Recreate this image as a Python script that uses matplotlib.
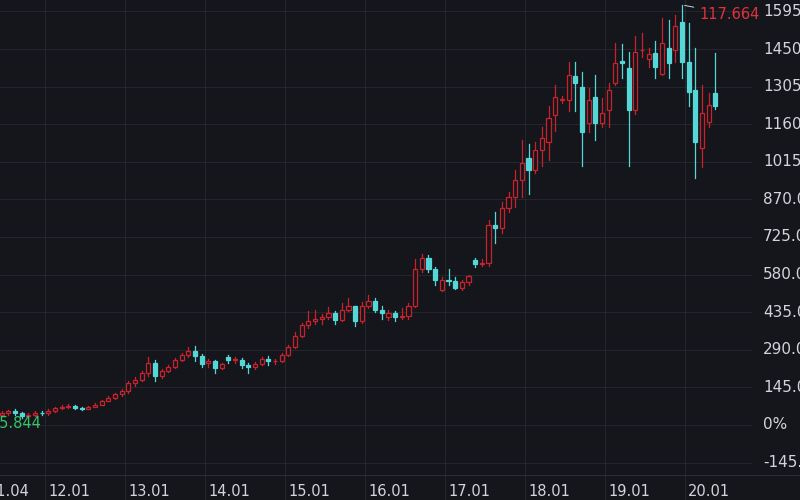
import matplotlib
matplotlib.use("Agg")
import matplotlib.pyplot as plt
from matplotlib.patches import Rectangle

opens = [40,48,52,45,35,40,48,
         45,55,65,70,72,66,63,70,78,92,105,118,
         130,160,175,200,240,190,210,225,250,270,285,265,
         240,245,220,262,250,252,230,225,235,255,245,248,
         270,300,345,385,400,410,415,430,405,445,460,400,
         460,480,445,415,430,415,420,460,600,645,600,520,
         560,555,530,550,636,620,625,770,760,835,880,945,
         1030,985,1060,1090,1195,1255,1255,1345,1305,1165,1265,1165,
         1215,1320,1405,1375,1215,1445,1410,1435,1355,1455,1445,1555,
         1400,1290,1070,1170,1280]
closes = [48,52,45,35,40,48,45,
          55,65,70,72,66,63,70,78,92,105,118,130,
          160,175,200,240,190,210,225,250,270,285,265,235,
          245,220,235,250,252,230,225,235,255,245,248,270,
          300,345,385,400,410,415,430,405,445,460,400,460,
          480,445,430,430,415,420,460,600,645,600,560,560,
          555,530,550,575,620,625,770,760,835,880,945,1010,
          985,1060,1105,1185,1265,1255,1350,1320,1130,1255,1165,1205,
          1290,1395,1395,1215,1440,1445,1430,1380,1475,1395,1540,1400,
          1285,1090,1205,1235,1230]
highs = [55,56,60,50,45,52,55,
         60,70,76,80,76,70,75,84,98,112,125,138,
         168,185,208,262,250,215,232,258,278,300,305,275,
         255,250,240,268,262,260,240,242,262,265,255,278,
         310,358,395,440,445,428,455,440,470,490,440,475,
         500,490,460,445,440,450,470,640,660,655,610,570,
         600,570,560,580,645,640,790,820,860,900,985,1100,
         1085,1090,1150,1230,1310,1270,1400,1400,1360,1300,1350,1260,
         1320,1475,1470,1440,1500,1510,1455,1480,1570,1560,1580,1620,
         1550,1455,1310,1280,1435]
lows = [35,40,38,28,30,36,38,
        40,50,60,64,60,58,60,70,86,98,100,112,
        125,150,170,190,170,182,205,220,245,262,245,225,
        225,200,215,240,240,220,200,215,230,232,235,242,
        265,295,340,375,390,390,410,390,400,440,380,395,
        450,435,410,405,400,410,410,455,590,590,540,515,
        540,525,520,540,610,615,615,700,740,820,840,880,
        890,970,1000,1020,1135,1240,1210,1210,1000,1130,1100,1150,
        1150,1310,1340,1000,1200,1420,1380,1340,1350,1340,1400,1340,
        1230,952,995,1150,1220]

years = ["12.01","13.01","14.01","15.01","16.01","17.01","18.01","19.01","20.01"]
yticks = [1595,1450,1305,1160,1015,870,725,580,435,290,145,0,-145]

BG = "#14161b"
RED = "#c9222c"
CYAN = "#54d7d6"
GRID = "#23262d"
TXT = "#d2d5db"

fig = plt.figure(figsize=(8, 5), dpi=100, facecolor=BG)
ax = fig.add_axes([0, 0.05, 0.94, 0.95], facecolor=BG)
n = len(closes)
ax.set_xlim(-0.24, 112.5)
ax.set_ylim(-193, 1639)
for s in ax.spines.values():
    s.set_visible(False)
ax.set_xticks([])
ax.set_yticks([])

for v in yticks:
    ax.axhline(v, color=GRID, lw=0.8, zorder=0)
    lab = "0%" if v == 0 else f"{v:.2f}%"
    fig.text(763 / 800, ax.transLimits.transform((0, v))[1] * 0.95 + 0.05, lab, color=TXT,
             fontsize=11, va="center", ha="left")

for k, lab in enumerate(["11.04"] + years):
    xg = -2.5 + 9 + 12 * (k - 1) if k > 0 else -2.5
    if k > 0:
        ax.axvline(xg, color=GRID, lw=0.8, zorder=0)
        fig.add_artist(plt.Line2D([(xg * 6.67 + 1.6) / 800] * 2, [0, 0.05], color=GRID, lw=0.8))
    fig.text((xg * 6.67 + 1.6 + 3) / 800, 0.018, lab, color=TXT, fontsize=10.5, ha="left", va="center")
fig.add_artist(plt.Line2D([0, 1], [0.05, 0.05], color="#2a2d34", lw=0.8))

w = 0.62
for i in range(n):
    o, c, h, l = opens[i], closes[i], highs[i], lows[i]
    up = c >= o
    col = RED if up else CYAN
    top, bot = max(o, c), min(o, c)
    ax.plot([i, i], [top, h], color=col, lw=0.9, zorder=2)
    ax.plot([i, i], [l, bot], color=col, lw=0.9, zorder=2)
    hgt = max(top - bot, 3)
    if up:
        ax.add_patch(Rectangle((i - w/2, bot), w, hgt, facecolor=BG, edgecolor=col, lw=0.9, zorder=3))
    else:
        ax.add_patch(Rectangle((i - w/2, bot), w, hgt, facecolor=col, edgecolor=col, lw=0.9, zorder=3))

imax = max(range(n), key=lambda k: highs[k])
ax.annotate("117.664", xy=(imax, highs[imax]), xytext=(imax + 2.6, 1585), color="#e0323c",
            fontsize=10.5, va="center", ha="left",
            arrowprops=dict(arrowstyle="-", color="#cfd3da", lw=0.7))
ax.text(6.0, 5, "35.844", color="#35c46a", fontsize=10.5, ha="right", va="center")

fig.savefig("out.png", dpi=100, facecolor=BG)
